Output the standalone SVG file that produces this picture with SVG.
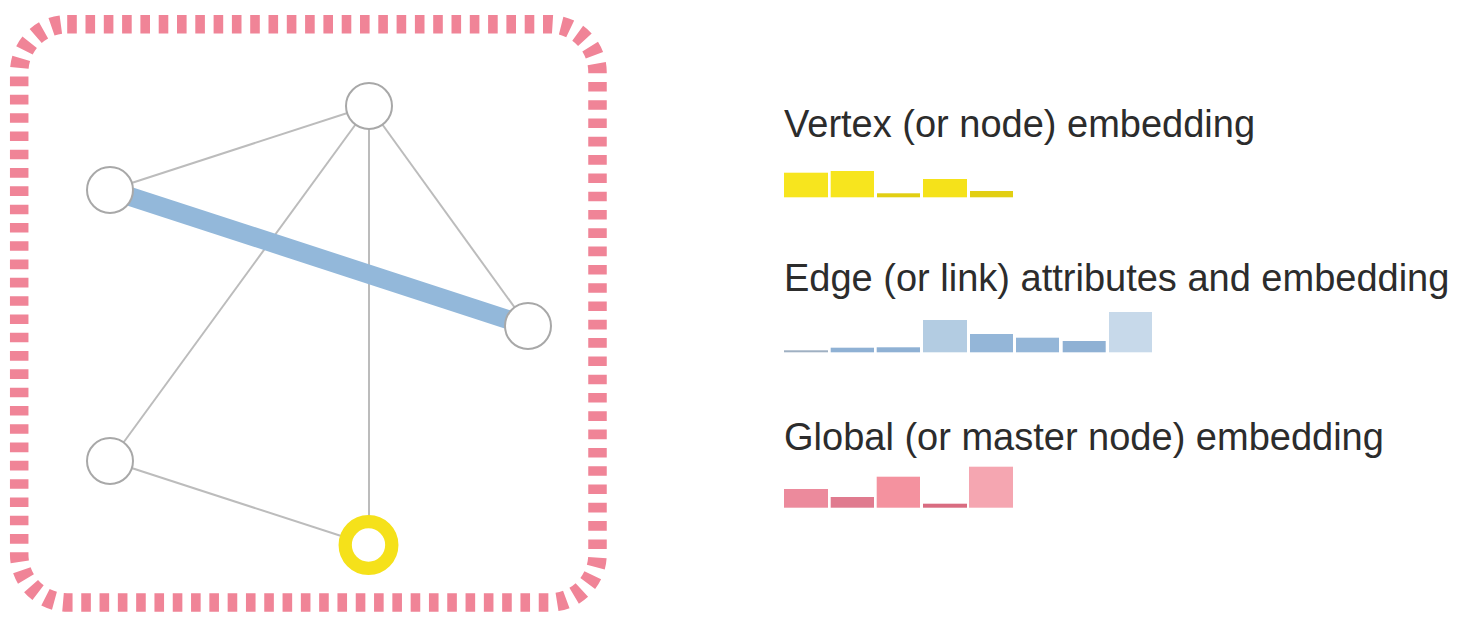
<svg xmlns="http://www.w3.org/2000/svg" width="1472" height="629" viewBox="0 0 1472 629">
<style>
.edge{stroke:#bcbcbc;stroke-width:2;fill:none}
.node{fill:#ffffff;stroke:#a8a8a8;stroke-width:2}
.lbl{font-family:"Liberation Sans",Arial,sans-serif;font-size:38px;fill:#2c2c2c}
</style>
<rect width="1472" height="629" fill="#ffffff"/>
<g id="boundary">
<rect x="19.2" y="24.2" width="578.3" height="578.3" rx="48" ry="48" fill="none" stroke="#f08497" stroke-width="18.5" stroke-dasharray="9.6 8.7"/>
</g>
<g id="connectors">
<line class="edge" x1="110" y1="190" x2="369" y2="106"/>
<line class="edge" x1="369" y1="106" x2="528" y2="326"/>
<line class="edge" x1="369" y1="106" x2="110" y2="461"/>
<line class="edge" x1="369" y1="106" x2="369" y2="545"/>
<line class="edge" x1="110" y1="461" x2="369" y2="545"/>
<line x1="110" y1="190" x2="528" y2="326" stroke="#93b8da" stroke-width="19"/>
</g>
<g id="node-top"><circle class="node" cx="369" cy="106" r="23"/></g>
<g id="node-left-top"><circle class="node" cx="110" cy="190" r="23"/></g>
<g id="node-right"><circle class="node" cx="528" cy="326" r="23"/></g>
<g id="node-left-bottom"><circle class="node" cx="110" cy="461" r="23"/></g>
<g id="node-yellow"><circle cx="368.5" cy="545" r="23.3" fill="#ffffff" stroke="#f5e11a" stroke-width="13.3"/></g>
<g id="vertex-embedding">
<text class="lbl" x="784" y="137">Vertex (or node) embedding</text>
<rect x="784" y="172.7" width="44" height="24.6" fill="#f7e51e"/>
<rect x="830.7" y="171" width="43.3" height="26.3" fill="#f7e51e"/>
<rect x="877" y="193.3" width="43" height="4" fill="#e2cf12"/>
<rect x="923" y="179" width="44" height="18.3" fill="#f5e21a"/>
<rect x="970" y="191" width="43" height="6.3" fill="#e2cf12"/>
</g>
<g id="edge-embedding">
<text class="lbl" x="784" y="290.7">Edge (or link) attributes and embedding</text>
<rect x="784" y="350.3" width="44" height="2" fill="#9fb0c2"/>
<rect x="830.7" y="347.7" width="43.3" height="4.6" fill="#8fb1d4"/>
<rect x="876.7" y="347.3" width="43.3" height="5" fill="#8fb1d4"/>
<rect x="923" y="320" width="44" height="32.3" fill="#b3cce2"/>
<rect x="970" y="334" width="43" height="18.3" fill="#94b6d8"/>
<rect x="1016" y="337.7" width="43" height="14.6" fill="#94b6d8"/>
<rect x="1062.7" y="341" width="43" height="11.3" fill="#8fb1d4"/>
<rect x="1109" y="312" width="43" height="40.3" fill="#c7d9ea"/>
</g>
<g id="global-embedding">
<text class="lbl" x="784" y="450">Global (or master node) embedding</text>
<rect x="784" y="489" width="44" height="18.7" fill="#ec8a9c"/>
<rect x="830.7" y="497" width="43.3" height="10.7" fill="#e07b8f"/>
<rect x="876.7" y="476.7" width="43.3" height="31" fill="#f4929f"/>
<rect x="923" y="503.7" width="44" height="4" fill="#d96c81"/>
<rect x="969" y="466.7" width="44" height="41" fill="#f5a6b1"/>
</g>
</svg>
